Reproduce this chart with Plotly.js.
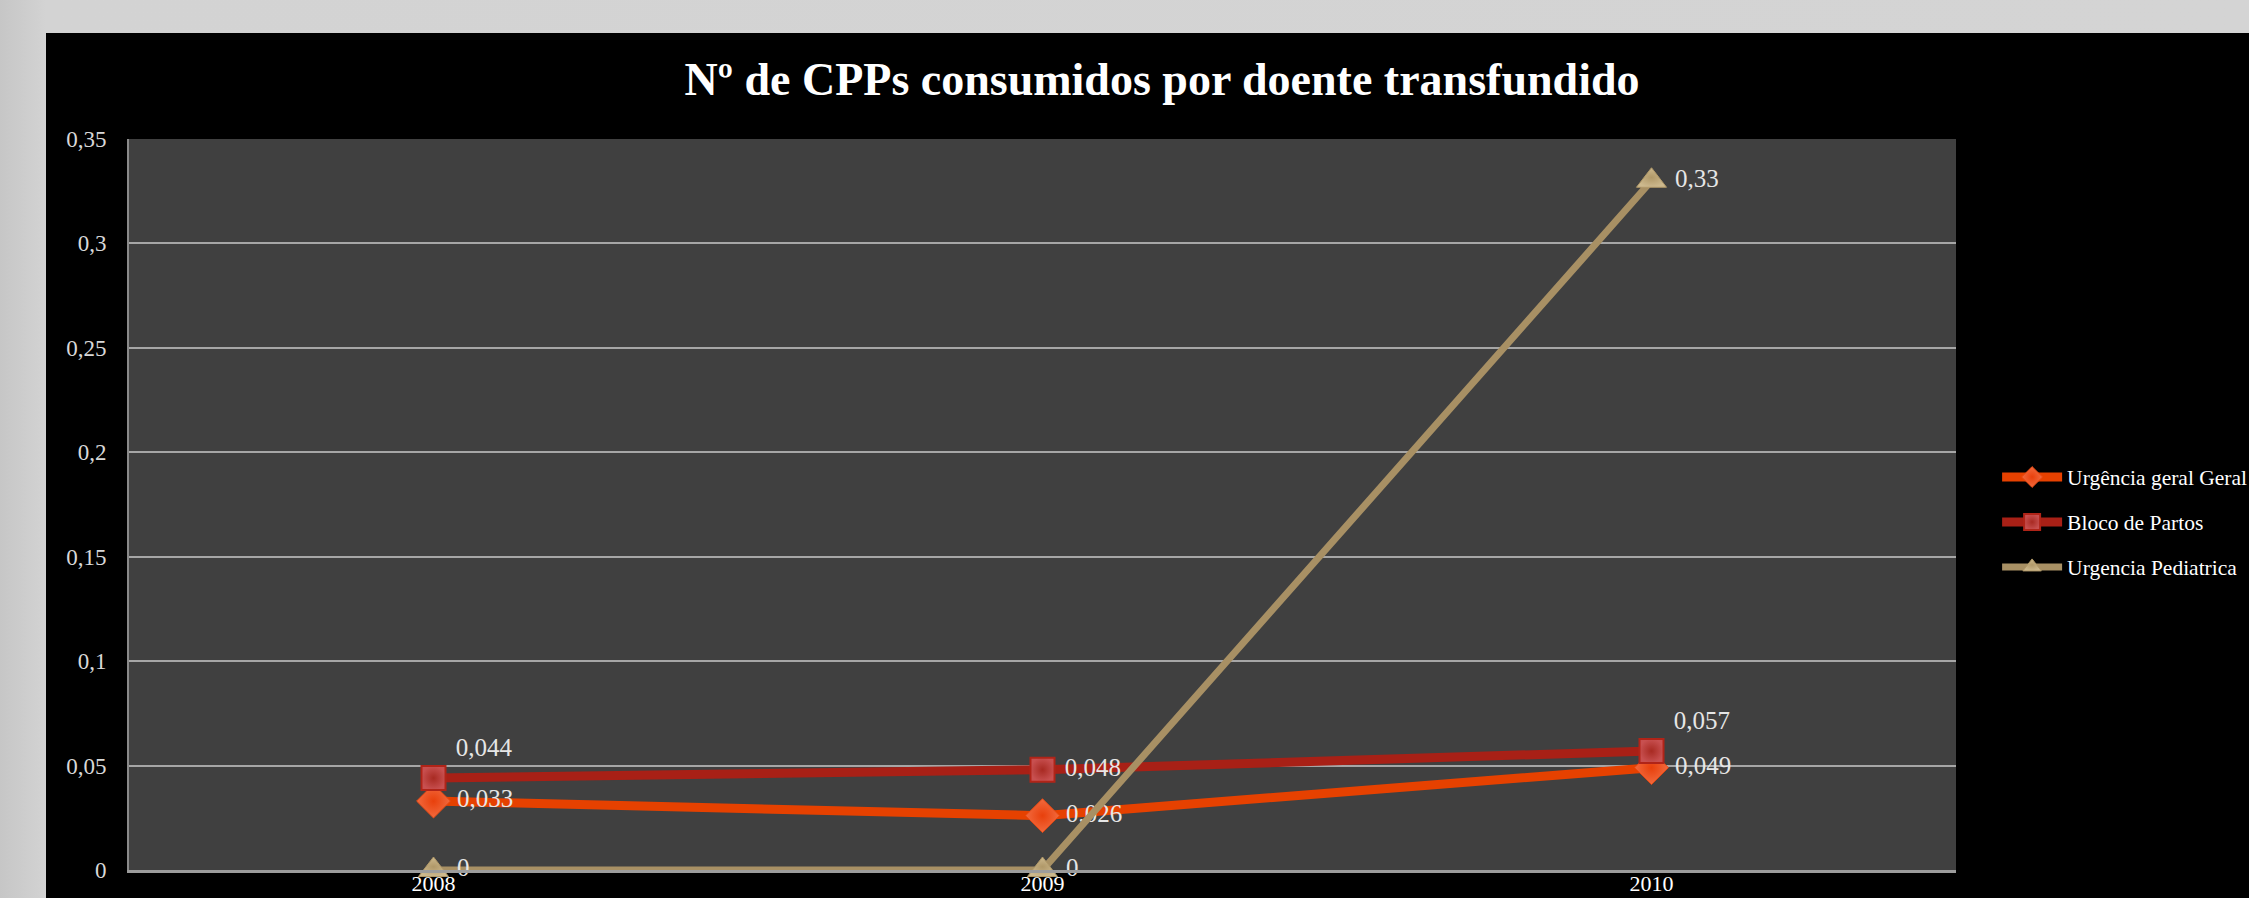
<!DOCTYPE html>
<html>
<head>
<meta charset="utf-8">
<script src="https://cdn.plot.ly/plotly-3.0.1.min.js"></script>
<style>
  html, body { margin:0; padding:0; overflow:hidden; width:2249px; height:898px;
    background: linear-gradient(90deg, #c6c6c6 0px, #d3d3d3 46px, #d4d4d4 100%); }
  #chart { position:absolute; left:46px; top:33px; width:2203px; height:865px; background:#000; }
</style>
</head>
<body>
<div id="chart"></div>
<script>
const categories = ['2008', '2009', '2010'];
const seriesNames = ['Urgência geral Geral', 'Bloco de Partos', 'Urgencia Pediatrica'];
const urgenciaGeral = [0.033, 0.026, 0.049];
const blocoPartos = [0.044, 0.048, 0.057];
const urgenciaPediatrica = [0, 0, 0.33];
const urgenciaGeralLabels = ['0,033', '0,026', '0,049'];
const blocoPartosLabels = ['0,044', '0,048', '0,057'];
const urgenciaPediatricaLabels = ['0', '0', '0,33'];
const yTickVals = [0, 0.05, 0.1, 0.15, 0.2, 0.25, 0.3, 0.35];
const yTickText = ['0', '0,05', '0,1', '0,15', '0,2', '0,25', '0,3', '0,35'];

const serif = '"Liberation Serif", "DejaVu Serif", serif';
const labelFont = {family: serif, size: 25, color: '#e6e6e6'};
const H = 865;

const traces = [
  {
    x: categories, y: urgenciaGeral, name: seriesNames[0], legendgroup: 'a',
    mode: 'lines+markers+text', text: urgenciaGeralLabels,
    texttemplate: '\u00a0%{text}',
    textposition: ['middle right', 'middle right', 'middle right'],
    textfont: labelFont, cliponaxis: false, hoverinfo: 'x+y',
    line: {color: '#e64100', width: 9},
    marker: {symbol: 'diamond', size: 26, color: '#f26a3e',
      gradient: {type: 'radial', color: '#e8400c'},
      line: {color: '#e84a14', width: 1}}
  },
  {
    x: categories, y: blocoPartos, name: seriesNames[1], legendgroup: 'b',
    mode: 'lines+markers+text', text: blocoPartosLabels,
    texttemplate: '\u00a0%{text}',
    textposition: ['top right', 'middle right', 'top right'],
    textfont: labelFont, cliponaxis: false, hoverinfo: 'x+y',
    line: {color: '#a82016', width: 9},
    marker: {symbol: 'square', size: 24, color: '#c85050',
      gradient: {type: 'radial', color: '#a82a22'},
      line: {color: '#b02418', width: 2}}
  },
  {
    x: categories, y: urgenciaPediatrica, name: seriesNames[2], legendgroup: 'c',
    mode: 'lines+markers+text', text: urgenciaPediatricaLabels,
    texttemplate: '\u00a0%{text}',
    textposition: ['middle right', 'middle right', 'middle right'],
    textfont: labelFont, cliponaxis: false, hoverinfo: 'x+y',
    line: {color: '#a89064', width: 7},
    marker: {symbol: 'triangle-up', size: 26, color: '#cdb98e',
      gradient: {type: 'radial', color: '#b09868'},
      line: {color: '#b09868', width: 1}}
  }
];

const layout = {
  width: 2203, height: H,
  paper_bgcolor: '#000000', plot_bgcolor: '#404040',
  margin: {l: 83, r: 293, t: 106, b: H - 837, autoexpand: false},
  showlegend: true,
  title: {
    text: '<b>Nº de CPPs consumidos por doente transfundido</b>',
    font: {family: serif, size: 46, color: '#ffffff'},
    x: 0.5066, xref: 'container', xanchor: 'center',
    y: 1 - 46 / H, yref: 'container', yanchor: 'middle'
  },
  xaxis: {
    type: 'category', range: [-0.5, 2.5], automargin: false,
    showgrid: false, zeroline: false,
    showline: true, linecolor: '#9c9c9c', linewidth: 3,
    ticks: '', ticklabelstandoff: -8,
    tickfont: {family: serif, size: 22, color: '#ffffff'}
  },
  yaxis: {
    range: [0, 0.35], tickmode: 'array', tickvals: yTickVals, ticktext: yTickText,
    automargin: false,
    showgrid: true, gridcolor: '#a6a6a6', gridwidth: 2,
    zeroline: false, showline: true, linecolor: '#8a8a8a', linewidth: 2,
    ticks: '', ticklabelstandoff: 16,
    tickfont: {family: serif, size: 23, color: '#d8d8d8'}
  },
  legend: {
    x: 1.0225, xanchor: 'left', y: 0.476, yanchor: 'middle',
    xref: 'paper', yref: 'paper',
    bgcolor: 'rgba(0,0,0,0)',
    font: {family: serif, size: 21.5, color: '#ffffff'},
    traceorder: 'grouped', tracegroupgap: 14, itemwidth: 60
  }
};

Plotly.newPlot('chart', traces, layout, {displayModeBar: false, responsive: false});
</script>
</body>
</html>
